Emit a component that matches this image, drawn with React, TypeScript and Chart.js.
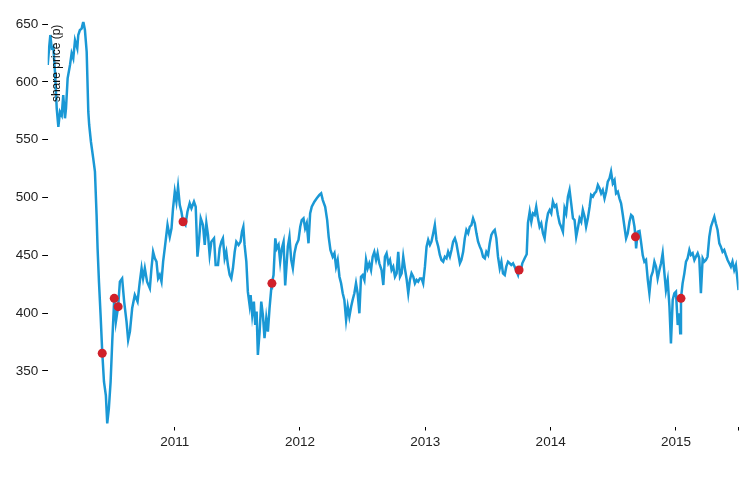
import { useEffect, useRef } from "react";
import { Chart, registerables } from "chart.js";

Chart.register(...registerables);

// Trading dates as decimal years, and share price (pence)
const dates = [
  2009.987, 2009.998, 2010.008, 2010.019, 2010.032, 2010.045, 2010.059, 2010.072, 2010.085, 2010.099,
  2010.111, 2010.125, 2010.133, 2010.146, 2010.165, 2010.178, 2010.191, 2010.205, 2010.223, 2010.231,
  2010.244, 2010.258, 2010.271, 2010.284, 2010.298, 2010.311, 2010.318, 2010.332, 2010.35, 2010.364,
  2010.377, 2010.385, 2010.396, 2010.409, 2010.422, 2010.436, 2010.451, 2010.462, 2010.475, 2010.489,
  2010.502, 2010.518, 2010.531, 2010.549, 2010.563, 2010.581, 2010.597, 2010.616, 2010.629, 2010.643,
  2010.661, 2010.682, 2010.704, 2010.722, 2010.736, 2010.748, 2010.762, 2010.78, 2010.802, 2010.815,
  2010.828, 2010.842, 2010.855, 2010.868, 2010.881, 2010.895, 2010.908, 2010.921, 2010.943, 2010.961,
  2010.975, 2010.987, 2011.001, 2011.014, 2011.027, 2011.041, 2011.054, 2011.067, 2011.086, 2011.102,
  2011.12, 2011.134, 2011.154, 2011.168, 2011.182, 2011.194, 2011.208, 2011.226, 2011.24, 2011.253,
  2011.266, 2011.279, 2011.293, 2011.314, 2011.327, 2011.346, 2011.359, 2011.373, 2011.385, 2011.399,
  2011.412, 2011.425, 2011.439, 2011.452, 2011.465, 2011.479, 2011.492, 2011.51, 2011.526, 2011.537,
  2011.548, 2011.558, 2011.572, 2011.584, 2011.598, 2011.606, 2011.619, 2011.632, 2011.643, 2011.654,
  2011.664, 2011.678, 2011.691, 2011.704, 2011.717, 2011.731, 2011.744, 2011.757, 2011.771, 2011.776,
  2011.789, 2011.803, 2011.815, 2011.829, 2011.842, 2011.855, 2011.869, 2011.882, 2011.903, 2011.916,
  2011.93, 2011.943, 2011.956, 2011.97, 2011.988, 2012.002, 2012.014, 2012.028, 2012.041, 2012.054,
  2012.068, 2012.081, 2012.094, 2012.115, 2012.134, 2012.155, 2012.169, 2012.182, 2012.201, 2012.217,
  2012.229, 2012.243, 2012.261, 2012.275, 2012.288, 2012.301, 2012.315, 2012.328, 2012.341, 2012.354,
  2012.368, 2012.381, 2012.394, 2012.408, 2012.42, 2012.434, 2012.447, 2012.46, 2012.474, 2012.487,
  2012.5, 2012.514, 2012.527, 2012.54, 2012.553, 2012.567, 2012.58, 2012.593, 2012.607, 2012.619,
  2012.633, 2012.651, 2012.665, 2012.678, 2012.691, 2012.705, 2012.718, 2012.731, 2012.744, 2012.758,
  2012.771, 2012.784, 2012.798, 2012.811, 2012.824, 2012.838, 2012.85, 2012.864, 2012.877, 2012.89,
  2012.904, 2012.917, 2012.93, 2012.943, 2012.957, 2012.97, 2012.983, 2012.997, 2013.01, 2013.023,
  2013.037, 2013.049, 2013.063, 2013.076, 2013.089, 2013.103, 2013.116, 2013.129, 2013.143, 2013.156,
  2013.169, 2013.182, 2013.196, 2013.209, 2013.222, 2013.236, 2013.248, 2013.262, 2013.276, 2013.288,
  2013.302, 2013.315, 2013.328, 2013.342, 2013.355, 2013.368, 2013.381, 2013.395, 2013.408, 2013.421,
  2013.435, 2013.447, 2013.461, 2013.475, 2013.487, 2013.501, 2013.514, 2013.527, 2013.541, 2013.554,
  2013.567, 2013.58, 2013.594, 2013.607, 2013.62, 2013.634, 2013.646, 2013.66, 2013.674, 2013.686,
  2013.7, 2013.713, 2013.74, 2013.748, 2013.761, 2013.774, 2013.793, 2013.809, 2013.819, 2013.833,
  2013.846, 2013.859, 2013.873, 2013.885, 2013.899, 2013.912, 2013.925, 2013.939, 2013.952, 2013.965,
  2013.979, 2013.992, 2014.005, 2014.018, 2014.032, 2014.045, 2014.058, 2014.072, 2014.084, 2014.098,
  2014.111, 2014.124, 2014.138, 2014.151, 2014.164, 2014.178, 2014.191, 2014.204, 2014.217, 2014.231,
  2014.244, 2014.257, 2014.271, 2014.283, 2014.297, 2014.311, 2014.323, 2014.337, 2014.35, 2014.363,
  2014.377, 2014.39, 2014.403, 2014.416, 2014.43, 2014.443, 2014.456, 2014.47, 2014.482, 2014.496,
  2014.51, 2014.522, 2014.536, 2014.549, 2014.562, 2014.576, 2014.589, 2014.602, 2014.615, 2014.629,
  2014.642, 2014.655, 2014.669, 2014.677, 2014.682, 2014.695, 2014.709, 2014.721, 2014.735, 2014.748,
  2014.761, 2014.775, 2014.788, 2014.801, 2014.815, 2014.828, 2014.841, 2014.854, 2014.868, 2014.881,
  2014.894, 2014.908, 2014.92, 2014.934, 2014.948, 2014.96, 2014.974, 2014.987, 2015.0, 2015.014,
  2015.027, 2015.034, 2015.04, 2015.053, 2015.067, 2015.08, 2015.093, 2015.107, 2015.119, 2015.133,
  2015.147, 2015.159, 2015.173, 2015.186, 2015.199, 2015.213, 2015.226, 2015.239, 2015.252, 2015.266,
  2015.279, 2015.292, 2015.306, 2015.318, 2015.332, 2015.346, 2015.358, 2015.372, 2015.385, 2015.398,
  2015.412, 2015.425, 2015.438, 2015.451, 2015.465, 2015.478, 2015.491, 2015.499,
];

const prices = [
  614.6, 629, 640.5, 629, 630, 608.8, 577, 561, 574, 571,
  588.6, 568.5, 577, 603, 614.6, 624.7, 620.3, 636, 629, 640.5,
  644.8, 646, 652, 644.8, 626, 574, 562.7, 548.2, 534, 522.3,
  484.9, 456, 427.2, 398.4, 366.7, 340.7, 329, 304.7, 317.7, 340.7,
  375.3, 412.8, 392.6, 405.6, 427.2, 430, 410, 392.6, 376.8, 384,
  404.2, 415.7, 410, 427.2, 438.8, 430, 438.8, 427.2, 421.5, 438.8,
  453, 447.4, 444.5, 430, 433, 427.2, 444.5, 456, 476.2, 466,
  473.4, 490.7, 505, 496.4, 509.3, 493.5, 487.7, 479, 476.2, 487.7,
  495, 490.7, 496.4, 492, 448.8, 461.8, 482, 476.2, 459, 477.7,
  467.6, 450.3, 461.8, 464.7, 441.6, 441.6, 456, 461.8, 464.7, 447.4,
  453, 441.6, 433, 430, 438.8, 453, 461.8, 459, 461.8, 470.4,
  474.7, 459, 444.5, 418.6, 407, 415.7, 398.4, 410, 389.8, 401.3,
  363.8, 384, 410, 398.4, 378.3, 395.6, 384, 404.2, 421.5, 425.8,
  433, 464.7, 456, 459, 444.5, 456, 461.8, 424, 457.5, 466,
  446, 438.8, 451.8, 459, 463.3, 474.7, 480.5, 482, 473.4, 477.7,
  460.4, 486.3, 492, 496.4, 499.3, 502.2, 503.6, 497.8, 492, 480.5,
  466, 454.6, 448.8, 451.8, 440.2, 446, 431.5, 425.8, 417.2, 411.4,
  394.1, 405.6, 397, 405.6, 411.4, 417.2, 425.8, 417.2, 399.9, 431.5,
  433, 428.7, 446, 438.8, 443.1, 437.3, 448.8, 453, 446, 451.8,
  443.1, 437.3, 424.3, 448.8, 451.8, 443.1, 446, 437.3, 440.2, 431.5,
  434.4, 453, 431.5, 434.4, 448.8, 438, 430, 417.2, 428.7, 434.4,
  431.5, 425.8, 428.7, 427.2, 430, 430, 425.8, 440.2, 457.5, 463.3,
  459, 461.8, 469, 476.2, 463.3, 457.5, 450.3, 446, 444.5, 448.8,
  447.4, 453, 448.8, 454.6, 461.8, 464.7, 460.4, 451.8, 443.1, 446,
  453, 464.7, 471.9, 469, 474.7, 476.2, 482, 477.7, 469, 461.8,
  457.5, 454.6, 448.8, 447.4, 453, 450.3, 460.4, 467.6, 470.4, 471.9,
  464.7, 448.8, 438.8, 444.5, 434.4, 433, 440.2, 444.5, 443.1, 441.6,
  443.1, 440.2, 433, 437.3, 435.9, 443.1, 447.4, 451, 478, 487.7,
  479, 486.3, 484.9, 492, 482, 474.7, 477.7, 469, 464.7, 477.7,
  486.3, 489.2, 486.3, 496.4, 492, 493.5, 484.9, 477.7, 474.7, 470.4,
  490.7, 486.3, 500.7, 506.5, 495, 482, 480.5, 466, 473.4, 482,
  479, 489.2, 483.4, 474.7, 482, 492, 502.2, 500.7, 503.6, 505,
  510.8, 508, 503.6, 506.5, 499.3, 505, 513.7, 516.6, 522.3, 512.3,
  515.1, 503.6, 505, 499.3, 495, 484.9, 474.7, 464.7, 469, 479,
  484.9, 483.4, 474.7, 466, 456, 470.4, 471, 461.8, 450, 444.5,
  446, 429, 417.2, 431.5, 435.9, 444.5, 440.2, 430, 437.3, 443.1,
  451.8, 434.4, 420, 428.7, 405.6, 373.9, 411.4, 417.2, 418.6, 389.8,
  399.9, 382.6, 412.8, 425.8, 434.4, 444.5, 447.4, 454.6, 450.3, 451.8,
  446, 448.8, 451.8, 447.4, 417.2, 447.4, 444.5, 446, 448.8, 466,
  474.7, 479, 483.4, 477.7, 471.9, 460.4, 457.5, 453, 454.6, 450.3,
  446, 443.1, 440.2, 444.5, 437.3, 441.6, 428.7, 420,
];

// Highlighted events (red dots)
const eventDates = [2010.422, 2010.518, 2010.549, 2011.067, 2011.776, 2013.748, 2014.677, 2015.04];
const eventPrices = [365.3, 412.8, 405.6, 479, 425.8, 437.3, 466, 412.8];

const yearTicks = [2011, 2012, 2013, 2014, 2015];
const priceTicks = [350, 400, 450, 500, 550, 600, 650];
const yAxisLabel = "share price (p)";

const FONT = "'Liberation Sans', Arial, Helvetica, sans-serif";

export default function App() {
  const canvasRef = useRef<HTMLCanvasElement | null>(null);

  useEffect(() => {
    const canvas = canvasRef.current;
    if (!canvas) return;
    const xMin = dates[0];
    const xMax = dates[dates.length - 1];

    const labelPlugin = {
      id: "yAxisLabelInside",
      afterDatasetsDraw(chart: any) {
        const { ctx, chartArea } = chart;
        ctx.save();
        ctx.translate(chartArea.left + 12.5, chartArea.top + 3);
        ctx.rotate(-Math.PI / 2);
        ctx.font = `12px ${FONT}`;
        ctx.fillStyle = "#111";
        ctx.textAlign = "right";
        ctx.textBaseline = "alphabetic";
        ctx.fillText(yAxisLabel, 0, 0);
        ctx.restore();
      },
    };

    const chart = new Chart(canvas, {
      type: "line",
      data: {
        datasets: [
          {
            type: "scatter",
            data: eventDates.map((d, i) => ({ x: d, y: eventPrices[i] })),
            backgroundColor: "#d0202a",
            borderWidth: 0,
            pointRadius: 4.5,
            order: 0,
          } as any,
          {
            type: "line",
            data: dates.map((d, i) => ({ x: d, y: prices[i] })),
            borderColor: "#1a98d5",
            borderWidth: 2.5,
            pointRadius: 0,
            tension: 0,
            fill: false,
            order: 1,
          },
        ],
      },
      options: {
        responsive: true,
        maintainAspectRatio: false,
        animation: false,
        layout: { padding: { top: 21.7, right: 3, left: 0, bottom: 0 } },
        plugins: {
          legend: { display: false },
          tooltip: { enabled: false },
          title: { display: false },
        },
        scales: {
          x: {
            type: "linear",
            min: xMin,
            max: xMax,
            afterBuildTicks: (s: any) => {
              s.ticks = [...yearTicks, xMax].map((v) => ({ value: v }));
            },
            afterFit: (s: any) => {
              s.height = 54.5;
            },
            grid: {
              drawOnChartArea: false,
              drawTicks: true,
              tickLength: 4,
              tickColor: "#000",
              tickWidth: 1,
            },
            border: { display: false },
            ticks: {
              color: "#222",
              font: { family: FONT, size: 13.5 },
              padding: 4,
              maxRotation: 0,
              autoSkip: false,
              callback: (v: any) => (yearTicks.includes(v) ? String(v) : ""),
            },
          },
          y: {
            type: "linear",
            min: 302,
            max: 652,
            afterBuildTicks: (s: any) => {
              s.ticks = priceTicks.map((v) => ({ value: v }));
            },
            afterFit: (s: any) => {
              s.width = 47.7;
            },
            grid: {
              drawOnChartArea: false,
              drawTicks: true,
              tickLength: 5.5,
              tickColor: "#000",
              tickWidth: 1,
            },
            border: { display: false },
            ticks: {
              color: "#222",
              font: { family: FONT, size: 13.5 },
              padding: 4,
              callback: (v: any) => String(v),
            },
          },
        },
      },
      plugins: [labelPlugin],
    });

    return () => chart.destroy();
  }, []);

  return (
    <div style={{ position: "fixed", left: 0, top: 0, width: 743, height: 481, background: "#fff" }}>
      <canvas ref={canvasRef} />
    </div>
  );
}
